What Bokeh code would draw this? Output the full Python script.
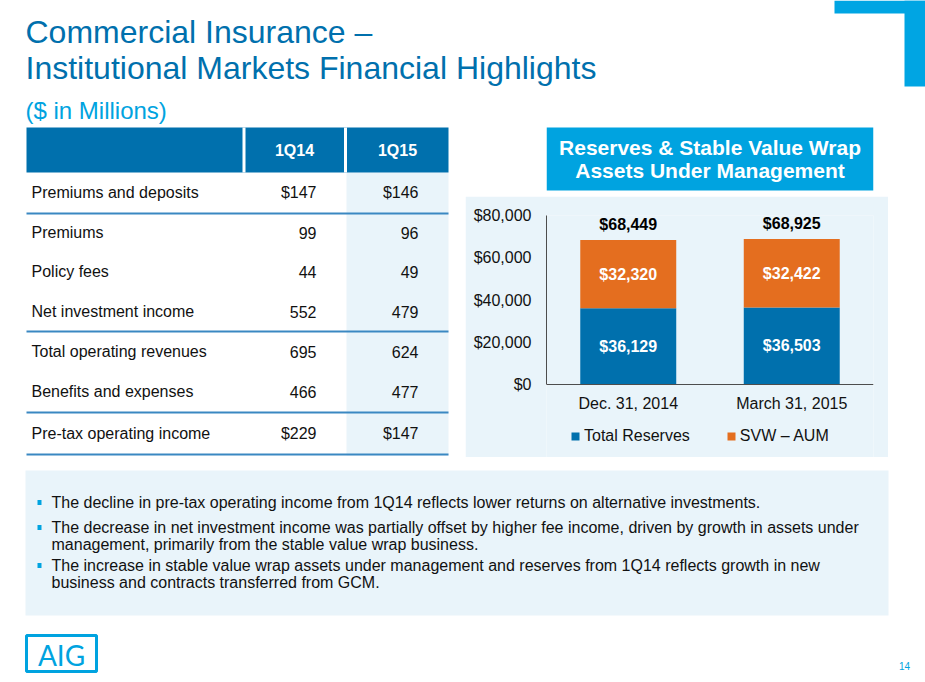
from bokeh.plotting import figure
from bokeh.models import (Range1d, FactorRange, ColumnDataSource, FixedTicker,
                          NumeralTickFormatter, Legend, LegendItem, Spacer)
from bokeh.layouts import column, row
from bokeh.core.properties import value
from bokeh.embed import file_html
from bokeh.resources import INLINE

# ---------------- data ----------------
title_lines = ["Commercial Insurance –", "Institutional Markets Financial Highlights"]
subtitle = "($ in Millions)"

table_cols = ["1Q14", "1Q15"]
table_rows = ["Premiums and deposits", "Premiums", "Policy fees", "Net investment income",
              "Total operating revenues", "Benefits and expenses", "Pre-tax operating income"]
vals_1q14 = [147, 99, 44, 552, 695, 466, 229]
vals_1q15 = [146, 96, 49, 479, 624, 477, 147]
dollar_rows = [0, 6]

chart_title = ["Reserves & Stable Value Wrap", "Assets Under Management"]
dates = ["Dec. 31, 2014", "March 31, 2015"]
total_reserves = [36129, 36503]
svw_aum = [32320, 32422]
totals = [68449, 68925]
series_names = ["Total Reserves", "SVW – AUM"]
y_ticks = [0, 20000, 40000, 60000, 80000]

bullets = [
    ["The decline in pre-tax operating income from 1Q14 reflects lower returns on alternative investments."],
    ["The decrease in net investment income was partially offset by higher fee income, driven by growth in assets under",
     "management, primarily from the stable value wrap business."],
    ["The increase in stable value wrap assets under management and reserves from 1Q14 reflects growth in new",
     "business and contracts transferred from GCM."],
]
page_number = "14"
logo_text = "AIG"

# ---------------- style ----------------
FONT = "Liberation Sans"
DARK_BLUE = "#0070AD"
LIGHT_BLUE = "#00A3E0"
PANEL = "#E9F4FA"
BAR_BLUE = "#0070AD"
BAR_ORANGE = "#E46E1F"
RULE = "#3A88C2"
TEXT = "#111111"


def canvas(x0, x1, y0, y1, fill="white"):
    f = figure(width=int(x1 - x0), height=int(y1 - y0),
               x_range=Range1d(x0, x1), y_range=Range1d(y1, y0),
               output_backend="svg", toolbar_location=None,
               x_axis_type=None, y_axis_type=None,
               min_border=0, min_border_left=0, min_border_right=0,
               min_border_top=0, min_border_bottom=0)
    f.grid.visible = False
    f.outline_line_color = None
    f.background_fill_color = fill
    f.border_fill_color = fill
    return f


def txt(f, x, y, s, size, color=TEXT, align="left", bold=False, baseline="middle", font=FONT):
    f.text(x=[x], y=[y], text=[s], text_font=value(font),
           text_font_size=value(f"{size}px"), text_color=color,
           text_align=align, text_baseline=baseline,
           text_font_style="bold" if bold else "normal")


# ---------------- header ----------------
header = canvas(0, 925, 0, 95)
header.quad(left=[834], right=[925], top=[0], bottom=[13], fill_color="#00A5E3", line_color=None)
header.quad(left=[904], right=[925], top=[0], bottom=[86], fill_color="#00A5E3", line_color=None)
txt(header, 25, 31, title_lines[0], 32, color=DARK_BLUE)
txt(header, 25, 67, title_lines[1], 32, color=DARK_BLUE)

# ---------------- table ----------------
tab = canvas(0, 465, 95, 462)
txt(tab, 25, 110, subtitle, 24, color=LIGHT_BLUE)
tab.quad(left=[346], right=[448], top=[172], bottom=[455], fill_color=PANEL, line_color=None)
tab.quad(left=[26], right=[448], top=[127], bottom=[172], fill_color=DARK_BLUE, line_color=None)
tab.segment(x0=[243.5, 345], y0=[127, 127], x1=[243.5, 345], y1=[172, 172], line_color="white", line_width=3)
tab.segment(x0=[26] * 4, y0=[213, 331, 412, 454], x1=[448] * 4, y1=[213, 331, 412, 454],
            line_color=RULE, line_width=2)
txt(tab, 294, 150, table_cols[0], 16, color="white", align="center", bold=True)
txt(tab, 397, 150, table_cols[1], 16, color="white", align="center", bold=True)
row_y = [192, 232, 271, 311, 351, 391, 433]
for i, lab in enumerate(table_rows):
    pre = "$" if i in dollar_rows else ""
    txt(tab, 31, row_y[i], lab, 16)
    txt(tab, 316, row_y[i], f"{pre}{vals_1q14[i]}", 16, align="right")
    txt(tab, 418, row_y[i], f"{pre}{vals_1q15[i]}", 16, align="right")

# ---------------- chart title box ----------------
ctitle = canvas(465, 888, 95, 196)
ctitle.quad(left=[465], right=[888], top=[127], bottom=[190], fill_color=LIGHT_BLUE, line_color=None)
txt(ctitle, 676.5, 147, chart_title[0], 21, color="white", align="center", bold=True)
txt(ctitle, 676.5, 170, chart_title[1], 21, color="white", align="center", bold=True)

# ---------------- chart ----------------
src = ColumnDataSource(dict(
    date=dates,
    res=total_reserves,
    svw=svw_aum,
    res_mid=[r / 2 for r in total_reserves],
    svw_mid=[r + s / 2 for r, s in zip(total_reserves, svw_aum)],
    total=totals,
    res_lab=[f"${v:,}" for v in total_reserves],
    svw_lab=[f"${v:,}" for v in svw_aum],
    tot_lab=[f"${v:,}" for v in totals],
))

# frame: top at y=215 (80,000), value 0 at y=384, frame bottom at y=457 (page px)
Y_MAX = y_ticks[-1]
px_per_unit = (384 - 215) / Y_MAX
y_start = -(457 - 384) / px_per_unit

chart = figure(width=423, height=261,
               x_range=FactorRange(factors=dates, range_padding=0),
               y_range=Range1d(y_start, Y_MAX),
               output_backend="svg", toolbar_location=None,
               min_border_left=81, min_border_right=15, min_border_top=19, min_border_bottom=0)
chart.background_fill_color = PANEL
chart.border_fill_color = PANEL
chart.outline_line_color = None
chart.grid.visible = False

rs = chart.vbar_stack(["res", "svw"], x="date", width=0.587, color=[BAR_BLUE, BAR_ORANGE],
                      line_color=None, source=src)

chart.text(x="date", y="res_mid", text="res_lab", source=src, text_color="white",
           text_font=value(FONT), text_font_size=value("16px"), text_font_style="bold",
           text_align="center", text_baseline="middle")
chart.text(x="date", y="svw_mid", text="svw_lab", source=src, text_color="white",
           text_font=value(FONT), text_font_size=value("16px"), text_font_style="bold",
           text_align="center", text_baseline="middle")
chart.text(x="date", y="total", text="tot_lab", source=src, text_color="black",
           text_font=value(FONT), text_font_size=value("16px"), text_font_style="bold",
           text_align="center", text_baseline="middle", y_offset=-15)

for ax in (chart.xaxis[0], chart.yaxis[0]):
    ax.major_tick_line_color = None
    ax.minor_tick_line_color = None
    ax.major_tick_in = 0
    ax.major_tick_out = 0
    ax.minor_tick_in = 0
    ax.minor_tick_out = 0
    ax.axis_line_color = "#4D4D4D"
    ax.axis_line_width = 1
    ax.major_label_text_font = FONT
    ax.major_label_text_font_size = "16px"
    ax.major_label_text_color = TEXT

chart.yaxis[0].ticker = FixedTicker(ticks=y_ticks)
chart.yaxis[0].formatter = NumeralTickFormatter(format="$0,0")
chart.yaxis[0].major_label_standoff = 15
chart.yaxis[0].bounds = (0, Y_MAX)
chart.xaxis[0].fixed_location = 0
chart.xaxis[0].major_label_standoff = 10

legend = Legend(items=[LegendItem(label=series_names[0], renderers=[rs[0]]),
                       LegendItem(label=series_names[1], renderers=[rs[1]])],
                location=(24, 12), orientation="horizontal", padding=0, margin=0,
                spacing=36, label_standoff=4, glyph_width=10, glyph_height=10,
                label_text_font=FONT, label_text_font_size="16px", label_text_color=TEXT,
                border_line_color=None, background_fill_alpha=0)
chart.add_layout(legend)

# ---------------- bottom ----------------
bottom = canvas(0, 925, 462, 682)
bottom.quad(left=[25], right=[888], top=[470], bottom=[615], fill_color=PANEL, line_color=None)
line_y = [[502], [527, 544], [565, 582]]
for b, lines in enumerate(bullets):
    y0 = line_y[b][0]
    bottom.quad(left=[37], right=[41], top=[y0 - 2.5], bottom=[y0 + 2.5], fill_color=LIGHT_BLUE, line_color=None)
    for j, ln in enumerate(lines):
        txt(bottom, 51, line_y[b][j], ln, 16)
bottom.quad(left=[26], right=[96], top=[635], bottom=[671], fill_color=None,
            line_color=LIGHT_BLUE, line_width=3)
txt(bottom, 61, 654, logo_text, 28, color=LIGHT_BLUE, align="center", font="Lato")
txt(bottom, 904, 665, page_number, 10, color=LIGHT_BLUE, align="center")

layout = column(
    header,
    row(tab, column(ctitle, chart, Spacer(width=423, height=5)), Spacer(width=37, height=367)),
    bottom,
)

open("out.html", "w").write(file_html(layout, INLINE))
